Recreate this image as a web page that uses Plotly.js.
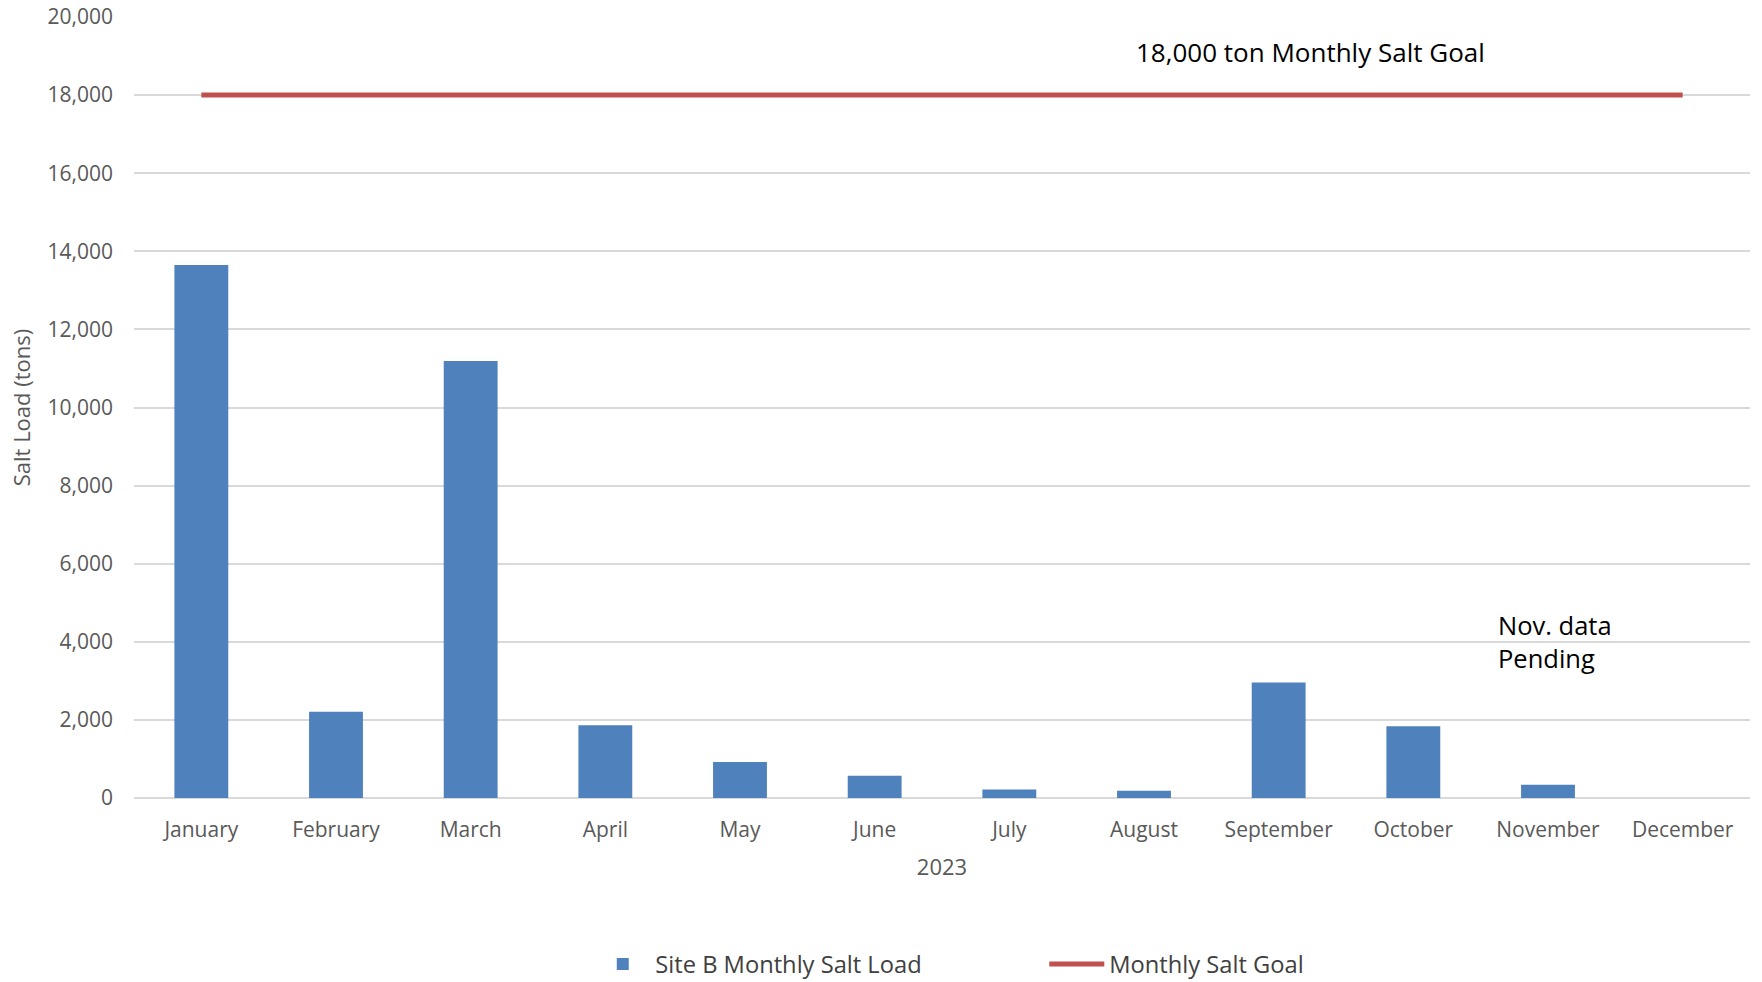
<!DOCTYPE html>
<html>
<head>
<meta charset="utf-8">
<script src="https://cdn.plot.ly/plotly-3.0.1.min.js"></script>
<style>
  html, body { margin: 0; padding: 0; background: #ffffff; }
  #chart { width: 1762px; height: 982px; }
</style>
</head>
<body>
<div id="chart"></div>
<script>
// ---- data ----
const months = ["January", "February", "March", "April", "May", "June",
                "July", "August", "September", "October", "November", "December"];
const siteBLoad = [13650, 2210, 11190, 1860, 920, 570, 215, 185, 2960, 1835, 340, null];
const monthlyGoal = [18000, 18000, 18000, 18000, 18000, 18000,
                     18000, 18000, 18000, 18000, 18000, 18000];
const yTickVals = [0, 2000, 4000, 6000, 8000, 10000, 12000, 14000, 16000, 18000, 20000];
const yTickText = ["0", "2,000", "4,000", "6,000", "8,000", "10,000", "12,000",
                   "14,000", "16,000", "18,000", "20,000"];
const loadName = "Site B Monthly Salt Load";
const goalName = "Monthly Salt Goal";
const goalLabel = "18,000 ton Monthly Salt Goal";
const pendingLabel = "Nov. data<br>Pending";
const xTitle = "2023";
const yTitle = "Salt Load (tons)";

const FONT = "Open Sans, Liberation Sans, sans-serif";

const traces = [
  {
    type: "bar",
    x: months,
    y: siteBLoad,
    name: loadName,
    marker: { color: "#4F81BD", line: { width: 0 } },
    hoverinfo: "x+y"
  },
  {
    type: "scatter",
    mode: "lines",
    x: months,
    y: monthlyGoal,
    name: goalName,
    line: { color: "#C0504D", width: 5 },
    hoverinfo: "x+y"
  }
];

const layout = {
  width: 1762,
  height: 982,
  paper_bgcolor: "#ffffff",
  plot_bgcolor: "#ffffff",
  margin: { l: 134, r: 12, t: 17, b: 184, pad: 0 },
  bargap: 0.6,
  showlegend: true,
  font: { family: FONT, color: "#595959", size: 21 },
  xaxis: {
    type: "category",
    categoryorder: "array",
    categoryarray: months,
    showgrid: false,
    showline: false,
    zeroline: false,
    ticks: "",
    ticklabelstandoff: 17,
    tickfont: { family: FONT, size: 21, color: "#595959" },
    title: { text: xTitle, font: { family: FONT, size: 22, color: "#595959" }, standoff: 17 }
  },
  yaxis: {
    range: [0, 20000],
    tickmode: "array",
    tickvals: yTickVals,
    ticktext: yTickText,
    showgrid: true,
    gridcolor: "#D9D9D9",
    gridwidth: 1.5,
    zeroline: true,
    zerolinecolor: "#D9D9D9",
    zerolinewidth: 1.5,
    showline: false,
    ticks: "",
    ticklabelstandoff: 20,
    tickfont: { family: FONT, size: 21, color: "#595959" },
    title: { text: yTitle, font: { family: FONT, size: 22, color: "#595959" }, standoff: 10 }
  },
  legend: {
    orientation: "h",
    xref: "container",
    yref: "container",
    x: 0.335,
    xanchor: "left",
    y: 0.0183,
    yanchor: "middle",
    itemwidth: 55,
    entrywidth: 384,
    font: { family: FONT, size: 23.7, color: "#404040" },
    bgcolor: "rgba(0,0,0,0)"
  },
  annotations: [
    {
      x: "September",
      y: 18000,
      xref: "x",
      yref: "y",
      text: goalLabel,
      showarrow: false,
      xanchor: "center",
      yanchor: "middle",
      xshift: 32,
      yshift: 43,
      font: { family: FONT, size: 26, color: "#000000" }
    },
    {
      x: "November",
      y: 4000,
      xref: "x",
      yref: "y",
      text: pendingLabel,
      showarrow: false,
      align: "left",
      xanchor: "left",
      yanchor: "middle",
      xshift: -52,
      font: { family: FONT, size: 25.5, color: "#000000" }
    }
  ]
};

Plotly.newPlot("chart", traces, layout, { displayModeBar: false, responsive: false });
</script>
</body>
</html>
